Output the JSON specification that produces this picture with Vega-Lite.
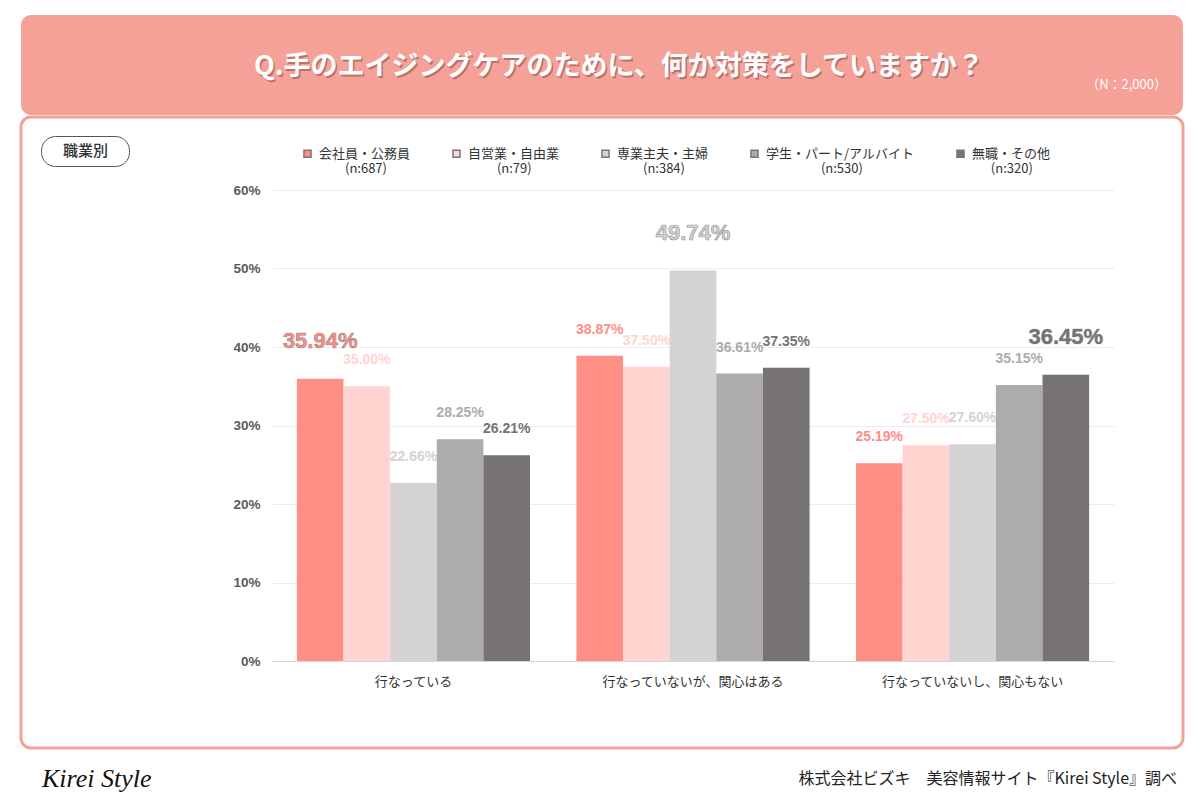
{
  "$schema": "https://vega.github.io/schema/vega-lite/v6.json",
  "background": "white",
  "padding": {"left": 19, "top": 15, "right": 19, "bottom": 0},
  "spacing": 0,
  "config": {
    "font": "Noto Sans CJK JP",
    "view": {"stroke": null}
  },
  "datasets": {
    "survey": [
      {"group": "行なっている", "cat": "会社員・公務員", "value": 0.3594},
      {"group": "行なっている", "cat": "自営業・自由業", "value": 0.3500},
      {"group": "行なっている", "cat": "専業主夫・主婦", "value": 0.2266},
      {"group": "行なっている", "cat": "学生・パート/アルバイト", "value": 0.2825},
      {"group": "行なっている", "cat": "無職・その他", "value": 0.2621},
      {"group": "行なっていないが、関心はある", "cat": "会社員・公務員", "value": 0.3887},
      {"group": "行なっていないが、関心はある", "cat": "自営業・自由業", "value": 0.3750},
      {"group": "行なっていないが、関心はある", "cat": "専業主夫・主婦", "value": 0.4974},
      {"group": "行なっていないが、関心はある", "cat": "学生・パート/アルバイト", "value": 0.3661},
      {"group": "行なっていないが、関心はある", "cat": "無職・その他", "value": 0.3735},
      {"group": "行なっていないし、関心もない", "cat": "会社員・公務員", "value": 0.2519},
      {"group": "行なっていないし、関心もない", "cat": "自営業・自由業", "value": 0.2750},
      {"group": "行なっていないし、関心もない", "cat": "専業主夫・主婦", "value": 0.2760},
      {"group": "行なっていないし、関心もない", "cat": "学生・パート/アルバイト", "value": 0.3515},
      {"group": "行なっていないし、関心もない", "cat": "無職・その他", "value": 0.3645}
    ]
  },
  "vconcat": [
    {
      "width": 1162,
      "height": 100,
      "view": {"fill": "#F6A198", "stroke": null, "cornerRadius": 10},
      "layer": [
        {
          "data": {"values": [{"t": "Q.手のエイジングケアのために、何か対策をしていますか？"}]},
          "mark": {"type": "text", "color": "#8a4f49", "opacity": 0.55, "fontSize": 27, "fontWeight": "bold", "dx": 18.5, "dy": 3.5},
          "encoding": {"text": {"field": "t"}}
        },
        {
          "data": {"values": [{"t": "Q.手のエイジングケアのために、何か対策をしていますか？"}]},
          "mark": {"type": "text", "color": "white", "fontSize": 27, "fontWeight": "bold", "dx": 17, "dy": 2},
          "encoding": {"text": {"field": "t"}}
        },
        {
          "data": {"values": [{"t": "（N：2,000）"}]},
          "mark": {"type": "text", "color": "white", "fontSize": 13, "align": "right", "dx": 565, "dy": 20},
          "encoding": {"text": {"field": "t"}}
        }
      ]
    },
    {
      "width": 1162,
      "height": 631,
      "view": {"fill": "white", "stroke": "#F3A299", "strokeWidth": 3, "cornerRadius": 10},
      "data": {"name": "survey"},
      "encoding": {
        "x": {
          "field": "group", "type": "nominal",
          "sort": ["行なっている", "行なっていないが、関心はある", "行なっていないし、関心もない"],
          "scale": {"range": [251, 1093], "paddingInner": 0.166, "paddingOuter": 0.089},
          "axis": {"title": null, "orient": "bottom", "offset": -87, "labelAngle": 0, "labelPadding": 14, "labelFontSize": 13, "labelLimit": 400, "labelColor": "#333333", "ticks": false, "domain": true, "domainColor": "#d6d6d6", "grid": false}
        },
        "xOffset": {
          "field": "cat", "type": "nominal",
          "sort": ["会社員・公務員", "自営業・自由業", "専業主夫・主婦", "学生・パート/アルバイト", "無職・その他"],
          "scale": {"paddingInner": 0, "paddingOuter": 0}
        },
        "y": {
          "field": "value", "type": "quantitative",
          "scale": {"domain": [0, 0.6], "range": [544, 73], "nice": false},
          "axis": {"title": null, "format": ".0%", "values": [0, 0.1, 0.2, 0.3, 0.4, 0.5, 0.6], "offset": -251, "labelPadding": 12, "labelFont": "Liberation Sans", "labelFontSize": 13.5, "labelFontWeight": "bold", "labelColor": "#5a5a5a", "ticks": false, "domain": false, "grid": true, "gridColor": "#ececec"}
        },
        "color": {
          "field": "cat", "type": "nominal",
          "sort": ["会社員・公務員", "自営業・自由業", "専業主夫・主婦", "学生・パート/アルバイト", "無職・その他"],
          "scale": {
            "domain": ["会社員・公務員", "自営業・自由業", "専業主夫・主婦", "学生・パート/アルバイト", "無職・その他"],
            "range": ["#FF8E84", "#FFD4D1", "#D5D2D3", "#AEABAE", "#767275"]
          },
          "legend": {
            "title": null, "orient": "none", "legendX": 280, "legendY": 132, "direction": "horizontal", "columns": 5, "columnPadding": 38,
            "symbolType": "square", "symbolSize": 50, "labelFontSize": 13, "labelColor": "#333333", "labelOffset": 5, "labelLimit": 300, "padding": 0,
            "labelExpr": "datum.label == '会社員・公務員' ? ['会社員・公務員', '\u200b\u3000\u3000(n:687)'] : datum.label == '自営業・自由業' ? ['自営業・自由業', '\u200b\u3000\u3000\u00a0(n:79)'] : datum.label == '専業主夫・主婦' ? ['専業主夫・主婦', '\u200b\u3000\u3000(n:384)'] : datum.label == '学生・パート/アルバイト' ? ['学生・パート/アルバイト', '\u200b\u3000\u3000\u3000\u3000\u00a0(n:530)'] : ['無職・その他', '\u200b\u3000\u00a0\u00a0(n:320)']"
          }
        }
      },
      "layer": [
        {
          "mark": {"type": "bar"},
          "encoding": {
            "opacity": {
              "datum": "職業別", "type": "nominal",
              "scale": {"range": [1, 1]},
              "legend": {"title": null, "orient": "none", "legendX": 20, "legendY": 121, "strokeColor": "#555555", "cornerRadius": 14, "padding": 7, "symbolOpacity": 0, "symbolSize": 0, "symbolFillColor": "white", "symbolStrokeColor": "white", "symbolStrokeWidth": 0, "labelOffset": 0, "labelFontSize": 15, "labelFontWeight": 500, "labelColor": "#333333", "labelExpr": "datum.label + '\u00a0\u00a0\u00a0\u00a0\u200b'"}
            }
          }
        },
        {
          "transform": [
            {"joinaggregate": [{"op": "max", "field": "value", "as": "gmax"}], "groupby": ["group"]},
            {"filter": "datum.value < datum.gmax"}
          ],
          "mark": {"type": "text", "dy": -26, "fontSize": 14, "fontWeight": "bold", "font": "Liberation Sans"},
          "encoding": {"text": {"field": "value", "type": "quantitative", "format": ".2%"}}
        },
        {
          "transform": [
            {"joinaggregate": [{"op": "max", "field": "value", "as": "gmax"}], "groupby": ["group"]},
            {"filter": "datum.value >= datum.gmax"}
          ],
          "mark": {"type": "text", "dy": -38, "fontSize": 22, "fontWeight": "bold", "font": "Liberation Sans", "stroke": "#777777", "strokeWidth": 0.7, "strokeOpacity": 0.7},
          "encoding": {"text": {"field": "value", "type": "quantitative", "format": ".2%"}}
        }
      ]
    },
    {
      "width": 1162,
      "height": 50,
      "view": {"stroke": null},
      "layer": [
        {
          "data": {"values": [{"t": "Kirei Style"}]},
          "mark": {"type": "text", "align": "left", "dx": -560, "dy": 4, "font": "Liberation Serif", "fontStyle": "italic", "fontSize": 26, "color": "#111111"},
          "encoding": {"text": {"field": "t"}}
        },
        {
          "data": {"values": [{"t": "株式会社ビズキ　美容情報サイト『Kirei Style』調べ"}]},
          "mark": {"type": "text", "align": "right", "dx": 575, "dy": 4, "fontSize": 16, "color": "#222222"},
          "encoding": {"text": {"field": "t"}}
        }
      ]
    }
  ]
}
